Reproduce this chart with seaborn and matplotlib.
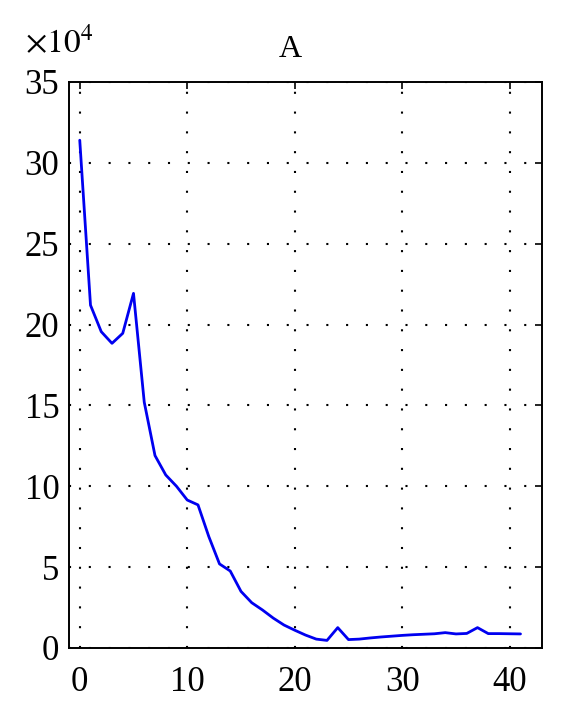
import numpy as np
import pandas as pd
import matplotlib
matplotlib.use("Agg")
import matplotlib.pyplot as plt
import seaborn as sns

# values (y in units of 10^4)
iteration = list(range(42))
value = [31.4, 21.2, 19.56, 18.84, 19.46, 21.93, 15.2, 11.9, 10.7, 10.0,
         9.15, 8.85, 6.9, 5.2, 4.76, 3.5, 2.8, 2.35, 1.85, 1.42,
         1.1, 0.8, 0.55, 0.47, 1.26, 0.52, 0.55, 0.62, 0.68, 0.73,
         0.78, 0.82, 0.85, 0.88, 0.95, 0.87, 0.9, 1.26, 0.89, 0.89,
         0.88, 0.87]
x_ticks = [0, 10, 20, 30, 40]
y_ticks = [0, 5, 10, 15, 20, 25, 30, 35]

df = pd.DataFrame({"x": iteration, "y": value})

sns.set_style("white")
plt.rcParams["font.family"] = ["Liberation Serif", "DejaVu Serif"]
plt.rcParams["mathtext.fontset"] = "stix"
plt.rcParams["text.color"] = "black"

fig = plt.figure(figsize=(5.69, 7.15), dpi=100)
ax = fig.add_axes([69 / 569, 67 / 715, 473 / 569, 566 / 715])

sns.lineplot(data=df, x="x", y="y", ax=ax, color="#0000f0", linewidth=2.0)

ax.set_xlim(-1, 43)
ax.set_ylim(0, 35)
ax.set_xticks(x_ticks)
ax.set_yticks(y_ticks)
ax.set_xlabel("")
ax.set_ylabel("")

ax.grid(True, color="black", linestyle=(0, (1, 8.5)), linewidth=1.5)
ax.tick_params(direction="in", length=5, width=1.2, top=True, right=True,
               labelsize=25, colors="black", pad=7)
ax.tick_params(axis="x", pad=13)
for s in ax.spines.values():
    s.set_visible(True)
    s.set_color("black")
    s.set_linewidth(1.4)

fig.text(290 / 569, 1 - 57 / 715, "A", ha="center", va="baseline",
         fontsize=23, color="black")
fig.text(25 / 569, 1 - 53 / 715, r"$\times10^{4}$", ha="left", va="baseline",
         fontsize=24, color="black")

fig.savefig("out.png", dpi=100)
